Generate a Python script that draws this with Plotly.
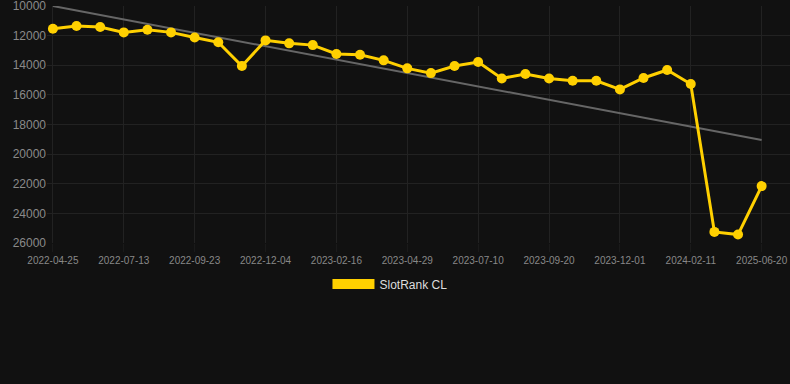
import plotly.graph_objects as go

dates = [
    "2022-04-25", "2022-05-21", "2022-06-17", "2022-07-13", "2022-08-06", "2022-08-30",
    "2022-09-23", "2022-10-17", "2022-11-10", "2022-12-04", "2022-12-28", "2023-01-22",
    "2023-02-16", "2023-03-12", "2023-04-05", "2023-04-29", "2023-05-23", "2023-06-16",
    "2023-07-10", "2023-08-03", "2023-08-27", "2023-09-20", "2023-10-14", "2023-11-07",
    "2023-12-01", "2023-12-25", "2024-01-18", "2024-02-11", "2024-03-06", "2024-04-01",
    "2025-06-20",
]
ranks = [
    11530, 11350, 11420, 11780, 11600, 11780, 12120, 12450, 14050, 12320, 12520,
    12640, 13240, 13290, 13670, 14210, 14530, 14050, 13780, 14890, 14590, 14890,
    15050, 15050, 15630, 14860, 14320, 15270, 25250, 25430, 22160,
]
trend_x = [dates[0], dates[-1]]
trend_y = [10000, 19050]
tick_labels = dates[::3]
y_ticks = [10000, 12000, 14000, 16000, 18000, 20000, 22000, 24000, 26000]
y_tick_text = [str(v) for v in y_ticks]

fig = go.Figure()
fig.add_trace(go.Scatter(
    x=trend_x, y=trend_y, mode="lines",
    line=dict(color="#666666", width=2), showlegend=False, hoverinfo="skip",
))
fig.add_trace(go.Scatter(
    x=dates, y=ranks, mode="lines+markers", name="SlotRank CL",
    line=dict(color="#FFD000", width=3),
    marker=dict(color="#FFD000", size=10),
    showlegend=False,
))
# legend entry (rectangle swatch)
fig.add_trace(go.Scatter(
    x=[None], y=[None], mode="lines", name="SlotRank CL",
    line=dict(color="#FFD000", width=12),
))

fig.update_layout(
    width=790, height=384,
    paper_bgcolor="#111111", plot_bgcolor="#111111",
    margin=dict(l=47, r=0, t=6, b=141),
    font=dict(family="Liberation Sans, Arial, sans-serif", color="#888888"),
    xaxis=dict(
        type="category", categoryorder="array", categoryarray=dates,
        range=[-0.25, 31.2],
        tickmode="array", tickvals=tick_labels, ticktext=tick_labels,
        tickfont=dict(size=10, color="#888888"),
        showgrid=True, gridcolor="#222222", gridwidth=1,
        zeroline=False, showline=False,
        ticks="outside", ticklen=8, tickcolor="#1a1a1a",
        ticklabeloverflow="allow",
    ),
    yaxis=dict(
        range=[26000, 9999],
        tickmode="array", tickvals=y_ticks, ticktext=y_tick_text,
        tickfont=dict(size=12, color="#8a8a8a"),
        showgrid=True, gridcolor="#222222", gridwidth=1,
        zeroline=False, showline=False, ticks="",
        ticklabeloverflow="allow",
    ),
    showlegend=True,
    legend=dict(
        orientation="h", x=0.4616, xanchor="center", y=-0.173, yanchor="middle",
        font=dict(size=12, color="#dddddd"), itemwidth=42,
        bgcolor="rgba(0,0,0,0)",
    ),
)

fig.write_html(
    "out.html",
    config={"displayModeBar": False},
    post_script="document.body.style.margin='0';document.body.style.background='#111111';",
)
